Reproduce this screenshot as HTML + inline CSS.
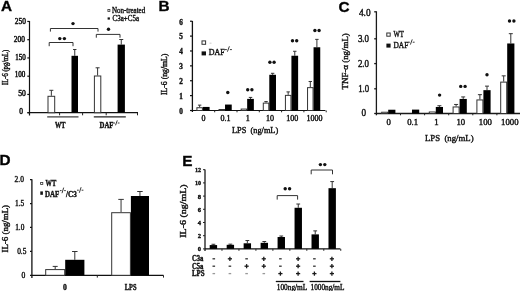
<!DOCTYPE html>
<html><head><meta charset="utf-8"><style>
html,body{margin:0;padding:0;background:#fff;}
body{width:520px;height:291px;overflow:hidden;font-family:"Liberation Serif", serif;}
svg{display:block;will-change:transform;filter:blur(0.35px);}
text{stroke:#111;stroke-width:0.38px;}
</style></head><body>
<svg width="520" height="291" viewBox="0 0 520 291">
<rect width="520" height="291" fill="#fff"/>
<text x="0.9" y="11.4" font-family='"Liberation Sans", sans-serif' font-size="15.3" font-weight="bold" fill="#000">A</text>
<line x1="29.50" y1="21.00" x2="29.50" y2="115.50" stroke="#111" stroke-width="1.2"/>
<line x1="27.30" y1="112.70" x2="29.50" y2="112.70" stroke="#111" stroke-width="1.2"/>
<line x1="27.30" y1="94.45" x2="29.50" y2="94.45" stroke="#111" stroke-width="1.2"/>
<line x1="27.30" y1="76.20" x2="29.50" y2="76.20" stroke="#111" stroke-width="1.2"/>
<line x1="27.30" y1="57.95" x2="29.50" y2="57.95" stroke="#111" stroke-width="1.2"/>
<line x1="27.30" y1="39.70" x2="29.50" y2="39.70" stroke="#111" stroke-width="1.2"/>
<line x1="27.30" y1="21.45" x2="29.50" y2="21.45" stroke="#111" stroke-width="1.2"/>
<line x1="27.50" y1="112.70" x2="138.00" y2="112.70" stroke="#111" stroke-width="1.2"/>
<line x1="59.60" y1="112.70" x2="59.60" y2="115.30" stroke="#222" stroke-width="1"/>
<line x1="82.60" y1="112.70" x2="82.60" y2="115.30" stroke="#222" stroke-width="1"/>
<line x1="106.20" y1="112.70" x2="106.20" y2="115.30" stroke="#222" stroke-width="1"/>
<line x1="137.50" y1="112.70" x2="137.50" y2="115.30" stroke="#222" stroke-width="1"/>
<text x="14.80" y="23.50" font-family='"Liberation Serif", serif' font-size="8.4" font-weight="normal" fill="#111" textLength="11.00" lengthAdjust="spacingAndGlyphs" style="stroke-width:0.5px">250</text>
<text x="13.80" y="41.50" font-family='"Liberation Serif", serif' font-size="8.4" font-weight="normal" fill="#111" textLength="11.00" lengthAdjust="spacingAndGlyphs" style="stroke-width:0.5px">200</text>
<text x="15.20" y="59.70" font-family='"Liberation Serif", serif' font-size="8.4" font-weight="normal" fill="#111" textLength="10.50" lengthAdjust="spacingAndGlyphs" style="stroke-width:0.5px">150</text>
<text x="14.70" y="77.20" font-family='"Liberation Serif", serif' font-size="8.4" font-weight="normal" fill="#111" textLength="10.60" lengthAdjust="spacingAndGlyphs" style="stroke-width:0.5px">100</text>
<text x="18.20" y="95.90" font-family='"Liberation Serif", serif' font-size="8.4" font-weight="normal" fill="#111" textLength="7.60" lengthAdjust="spacingAndGlyphs" style="stroke-width:0.5px">50</text>
<text x="19.30" y="114.00" font-family='"Liberation Serif", serif' font-size="8.4" font-weight="normal" fill="#111" textLength="3.70" lengthAdjust="spacingAndGlyphs" style="stroke-width:0.5px">0</text>
<text transform="translate(5.30,67.30) rotate(-90)" x="0" y="2.38" text-anchor="middle" font-family='"Liberation Serif", serif' font-size="7.2" font-weight="normal" fill="#111" textLength="35.20" lengthAdjust="spacingAndGlyphs">IL-6 (pg/mL)</text>
<line x1="51.35" y1="90.30" x2="51.35" y2="95.80" stroke="#333" stroke-width="1"/>
<line x1="49.35" y1="90.30" x2="53.35" y2="90.30" stroke="#333" stroke-width="1"/>
<rect x="48.00" y="96.30" width="6.70" height="16.40" fill="#fff" stroke="#333" stroke-width="1"/>
<line x1="74.75" y1="49.50" x2="74.75" y2="55.80" stroke="#333" stroke-width="1"/>
<line x1="73.05" y1="49.50" x2="76.45" y2="49.50" stroke="#333" stroke-width="1"/>
<rect x="71.50" y="55.80" width="6.50" height="56.90" fill="#000"/>
<line x1="97.60" y1="67.80" x2="97.60" y2="75.50" stroke="#333" stroke-width="1"/>
<line x1="95.60" y1="67.80" x2="99.60" y2="67.80" stroke="#333" stroke-width="1"/>
<rect x="94.40" y="76.00" width="6.40" height="36.70" fill="#fff" stroke="#333" stroke-width="1"/>
<line x1="121.25" y1="39.50" x2="121.25" y2="44.60" stroke="#333" stroke-width="1"/>
<line x1="119.25" y1="39.50" x2="123.25" y2="39.50" stroke="#333" stroke-width="1"/>
<rect x="117.60" y="44.60" width="7.30" height="68.10" fill="#000"/>
<polyline points="50.4,31.6 50.4,28.5 98,28.5 98,31.6" fill="none" stroke="#333" stroke-width="1"/>
<polyline points="49.2,46.2 49.2,42.5 73,42.5 73,46.2" fill="none" stroke="#333" stroke-width="1"/>
<polyline points="96.3,37.7 96.3,34.4 120,34.4 120,37.7" fill="none" stroke="#333" stroke-width="1"/>
<circle cx="73" cy="23.6" r="1.7" fill="#111"/>
<circle cx="108.5" cy="29.2" r="1.7" fill="#111"/>
<circle cx="59.8" cy="38.6" r="1.7" fill="#111"/>
<circle cx="64.4" cy="38.6" r="1.7" fill="#111"/>
<line x1="47.20" y1="116.90" x2="78.50" y2="116.90" stroke="#222" stroke-width="1.1"/>
<line x1="93.80" y1="116.90" x2="125.80" y2="116.90" stroke="#222" stroke-width="1.1"/>
<text x="55.00" y="127.60" font-family='"Liberation Serif", serif' font-size="8" font-weight="bold" fill="#111" textLength="10.50" lengthAdjust="spacingAndGlyphs">WT</text>
<text x="99.50" y="127.80" font-family='"Liberation Serif", serif' font-size="8" font-weight="bold" fill="#111" textLength="14.00" lengthAdjust="spacingAndGlyphs">DAF</text>
<line x1="113.30" y1="123.00" x2="115.04" y2="123.00" stroke="#222" stroke-width="0.9"/>
<line x1="115.53" y1="125.30" x2="117.27" y2="120.40" stroke="#222" stroke-width="0.9"/>
<line x1="117.76" y1="123.00" x2="119.50" y2="123.00" stroke="#222" stroke-width="0.9"/>
<rect x="107.9" y="9.5" width="2.0" height="2.0" fill="#fff" stroke="#333" stroke-width="0.8"/>
<rect x="107.60" y="17.40" width="2.30" height="2.20" fill="#111"/>
<text x="111.90" y="13.20" font-family='"Liberation Serif", serif' font-size="7.8" font-weight="normal" fill="#111" textLength="33.30" lengthAdjust="spacingAndGlyphs">Non-treated</text>
<text x="112.60" y="21.00" font-family='"Liberation Serif", serif' font-size="7.8" font-weight="normal" fill="#111" textLength="26.40" lengthAdjust="spacingAndGlyphs">C3a+C5a</text>
<text x="158.6" y="11.1" font-family='"Liberation Sans", sans-serif' font-size="15.3" font-weight="bold" fill="#000">B</text>
<line x1="192.40" y1="21.00" x2="192.40" y2="112.00" stroke="#111" stroke-width="1.3"/>
<line x1="190.00" y1="110.50" x2="192.40" y2="110.50" stroke="#111" stroke-width="1.2"/>
<text x="181.10" y="113.80" text-anchor="middle" font-family='"Liberation Serif", serif' font-size="7.2" font-weight="bold" fill="#111">0</text>
<line x1="190.00" y1="95.62" x2="192.40" y2="95.62" stroke="#111" stroke-width="1.2"/>
<text x="181.10" y="98.92" text-anchor="middle" font-family='"Liberation Serif", serif' font-size="7.2" font-weight="bold" fill="#111">1</text>
<line x1="190.00" y1="80.74" x2="192.40" y2="80.74" stroke="#111" stroke-width="1.2"/>
<text x="181.10" y="84.04" text-anchor="middle" font-family='"Liberation Serif", serif' font-size="7.2" font-weight="bold" fill="#111">2</text>
<line x1="190.00" y1="65.86" x2="192.40" y2="65.86" stroke="#111" stroke-width="1.2"/>
<text x="181.10" y="69.16" text-anchor="middle" font-family='"Liberation Serif", serif' font-size="7.2" font-weight="bold" fill="#111">3</text>
<line x1="190.00" y1="50.98" x2="192.40" y2="50.98" stroke="#111" stroke-width="1.2"/>
<text x="181.10" y="54.28" text-anchor="middle" font-family='"Liberation Serif", serif' font-size="7.2" font-weight="bold" fill="#111">4</text>
<line x1="190.00" y1="36.10" x2="192.40" y2="36.10" stroke="#111" stroke-width="1.2"/>
<text x="181.10" y="39.40" text-anchor="middle" font-family='"Liberation Serif", serif' font-size="7.2" font-weight="bold" fill="#111">5</text>
<line x1="190.00" y1="21.22" x2="192.40" y2="21.22" stroke="#111" stroke-width="1.2"/>
<text x="181.10" y="24.52" text-anchor="middle" font-family='"Liberation Serif", serif' font-size="7.2" font-weight="bold" fill="#111">6</text>
<line x1="192.40" y1="110.50" x2="325.40" y2="110.50" stroke="#111" stroke-width="1.2"/>
<line x1="214.70" y1="110.50" x2="214.70" y2="112.30" stroke="#222" stroke-width="1"/>
<line x1="237.00" y1="110.50" x2="237.00" y2="112.30" stroke="#222" stroke-width="1"/>
<line x1="259.30" y1="110.50" x2="259.30" y2="112.30" stroke="#222" stroke-width="1"/>
<line x1="281.60" y1="110.50" x2="281.60" y2="112.30" stroke="#222" stroke-width="1"/>
<line x1="303.90" y1="110.50" x2="303.90" y2="112.30" stroke="#222" stroke-width="1"/>
<line x1="326.20" y1="110.50" x2="326.20" y2="112.30" stroke="#222" stroke-width="1"/>
<text transform="translate(165.00,74.30) rotate(-90)" x="0" y="2.48" text-anchor="middle" font-family='"Liberation Serif", serif' font-size="7.5" font-weight="normal" fill="#111" textLength="41.40" lengthAdjust="spacingAndGlyphs">IL-6 (ng/mL)</text>
<line x1="199.65" y1="105.14" x2="199.65" y2="107.23" stroke="#333" stroke-width="1"/>
<line x1="197.95" y1="105.14" x2="201.35" y2="105.14" stroke="#333" stroke-width="1"/>
<rect x="196.90" y="107.73" width="5.50" height="2.77" fill="#fff" stroke="#333" stroke-width="1"/>
<rect x="202.90" y="106.93" width="6.70" height="3.57" fill="#000"/>
<rect x="219.03" y="109.51" width="5.50" height="0.99" fill="#fff" stroke="#333" stroke-width="1"/>
<rect x="225.03" y="104.55" width="6.70" height="5.95" fill="#000"/>
<rect x="241.16" y="109.07" width="5.50" height="1.43" fill="#fff" stroke="#333" stroke-width="1"/>
<line x1="250.51" y1="97.41" x2="250.51" y2="98.89" stroke="#333" stroke-width="1"/>
<line x1="248.81" y1="97.41" x2="252.21" y2="97.41" stroke="#333" stroke-width="1"/>
<rect x="247.16" y="98.89" width="6.70" height="11.61" fill="#000"/>
<line x1="266.04" y1="101.57" x2="266.04" y2="102.61" stroke="#333" stroke-width="1"/>
<line x1="264.34" y1="101.57" x2="267.74" y2="101.57" stroke="#333" stroke-width="1"/>
<rect x="263.29" y="103.11" width="5.50" height="7.39" fill="#fff" stroke="#333" stroke-width="1"/>
<line x1="272.64" y1="73.30" x2="272.64" y2="74.79" stroke="#333" stroke-width="1"/>
<line x1="270.94" y1="73.30" x2="274.34" y2="73.30" stroke="#333" stroke-width="1"/>
<rect x="269.29" y="74.79" width="6.70" height="35.71" fill="#000"/>
<line x1="288.17" y1="91.90" x2="288.17" y2="94.88" stroke="#333" stroke-width="1"/>
<line x1="286.47" y1="91.90" x2="289.87" y2="91.90" stroke="#333" stroke-width="1"/>
<rect x="285.42" y="95.38" width="5.50" height="15.12" fill="#fff" stroke="#333" stroke-width="1"/>
<line x1="294.77" y1="51.28" x2="294.77" y2="55.74" stroke="#333" stroke-width="1"/>
<line x1="293.07" y1="51.28" x2="296.47" y2="51.28" stroke="#333" stroke-width="1"/>
<rect x="291.42" y="55.74" width="6.70" height="54.76" fill="#000"/>
<line x1="310.30" y1="81.48" x2="310.30" y2="87.14" stroke="#333" stroke-width="1"/>
<line x1="308.60" y1="81.48" x2="312.00" y2="81.48" stroke="#333" stroke-width="1"/>
<rect x="307.55" y="87.64" width="5.50" height="22.86" fill="#fff" stroke="#333" stroke-width="1"/>
<line x1="316.90" y1="39.37" x2="316.90" y2="47.26" stroke="#333" stroke-width="1"/>
<line x1="315.20" y1="39.37" x2="318.60" y2="39.37" stroke="#333" stroke-width="1"/>
<rect x="313.55" y="47.26" width="6.70" height="63.24" fill="#000"/>
<circle cx="227.8" cy="92.5" r="1.7" fill="#111"/>
<circle cx="247.70000000000002" cy="89.7" r="1.7" fill="#111"/>
<circle cx="251.9" cy="89.7" r="1.7" fill="#111"/>
<circle cx="269.9" cy="62.2" r="1.7" fill="#111"/>
<circle cx="274.1" cy="62.2" r="1.7" fill="#111"/>
<circle cx="292.5" cy="40.8" r="1.7" fill="#111"/>
<circle cx="296.70000000000005" cy="40.8" r="1.7" fill="#111"/>
<circle cx="314.9" cy="30.5" r="1.7" fill="#111"/>
<circle cx="319.1" cy="30.5" r="1.7" fill="#111"/>
<text x="203.40" y="120.90" text-anchor="middle" font-family='"Liberation Serif", serif' font-size="8.0" font-weight="normal" fill="#111" style="stroke-width:0.4px">0</text>
<text x="225.60" y="120.90" text-anchor="middle" font-family='"Liberation Serif", serif' font-size="8.0" font-weight="normal" fill="#111" style="stroke-width:0.4px">0.1</text>
<text x="247.80" y="120.90" text-anchor="middle" font-family='"Liberation Serif", serif' font-size="8.0" font-weight="normal" fill="#111" style="stroke-width:0.4px">1</text>
<text x="270.00" y="120.90" text-anchor="middle" font-family='"Liberation Serif", serif' font-size="8.0" font-weight="normal" fill="#111" style="stroke-width:0.4px">10</text>
<text x="292.20" y="120.90" text-anchor="middle" font-family='"Liberation Serif", serif' font-size="8.0" font-weight="normal" fill="#111" style="stroke-width:0.4px">100</text>
<text x="314.40" y="120.90" text-anchor="middle" font-family='"Liberation Serif", serif' font-size="8.0" font-weight="normal" fill="#111" style="stroke-width:0.4px">1000</text>
<text x="232.00" y="133.20" font-family='"Liberation Serif", serif' font-size="8.4" font-weight="normal" fill="#111" textLength="46.20" lengthAdjust="spacingAndGlyphs" style="stroke-width:0.4px">LPS&#160;&#160;(ng/mL)</text>
<rect x="202.0" y="40.9" width="3.6" height="3.4" fill="#fff" stroke="#333" stroke-width="1"/>
<rect x="201.60" y="51.40" width="4.40" height="4.00" fill="#111"/>
<rect x="209.5" y="42.5" width="2" height="1.5" fill="#ddd"/>
<text x="208.70" y="55.00" font-family='"Liberation Serif", serif' font-size="8.4" font-weight="normal" fill="#111" textLength="15.90" lengthAdjust="spacingAndGlyphs">DAF</text>
<line x1="224.90" y1="49.60" x2="226.86" y2="49.60" stroke="#222" stroke-width="0.9"/>
<line x1="227.42" y1="51.70" x2="229.38" y2="46.30" stroke="#222" stroke-width="0.9"/>
<line x1="229.94" y1="49.60" x2="231.90" y2="49.60" stroke="#222" stroke-width="0.9"/>
<text x="338.6" y="12.0" font-family='"Liberation Sans", sans-serif' font-size="15.3" font-weight="bold" fill="#000">C</text>
<line x1="376.40" y1="11.30" x2="376.40" y2="115.30" stroke="#1a1a1a" stroke-width="1.3"/>
<line x1="374.20" y1="113.50" x2="376.40" y2="113.50" stroke="#1a1a1a" stroke-width="1.3"/>
<line x1="374.20" y1="88.80" x2="376.40" y2="88.80" stroke="#1a1a1a" stroke-width="1.3"/>
<line x1="374.20" y1="63.60" x2="376.40" y2="63.60" stroke="#1a1a1a" stroke-width="1.3"/>
<line x1="374.20" y1="38.80" x2="376.40" y2="38.80" stroke="#1a1a1a" stroke-width="1.3"/>
<line x1="374.20" y1="11.80" x2="376.40" y2="11.80" stroke="#1a1a1a" stroke-width="1.3"/>
<text x="358.90" y="15.50" font-family='"Liberation Serif", serif' font-size="9.4" font-weight="normal" fill="#111" textLength="11.70" lengthAdjust="spacingAndGlyphs">4.0</text>
<text x="357.90" y="42.00" font-family='"Liberation Serif", serif' font-size="9.4" font-weight="normal" fill="#111" textLength="11.20" lengthAdjust="spacingAndGlyphs">3.0</text>
<text x="357.90" y="66.80" font-family='"Liberation Serif", serif' font-size="9.4" font-weight="normal" fill="#111" textLength="11.20" lengthAdjust="spacingAndGlyphs">2.0</text>
<text x="358.20" y="91.60" font-family='"Liberation Serif", serif' font-size="9.4" font-weight="normal" fill="#111" textLength="11.00" lengthAdjust="spacingAndGlyphs">1.0</text>
<text x="361.40" y="116.30" font-family='"Liberation Serif", serif' font-size="9.4" font-weight="normal" fill="#111" textLength="4.60" lengthAdjust="spacingAndGlyphs">0</text>
<line x1="376.40" y1="113.50" x2="520.00" y2="113.50" stroke="#1a1a1a" stroke-width="1.3"/>
<line x1="400.50" y1="113.50" x2="400.50" y2="115.30" stroke="#222" stroke-width="1"/>
<line x1="424.60" y1="113.50" x2="424.60" y2="115.30" stroke="#222" stroke-width="1"/>
<line x1="448.70" y1="113.50" x2="448.70" y2="115.30" stroke="#222" stroke-width="1"/>
<line x1="472.80" y1="113.50" x2="472.80" y2="115.30" stroke="#222" stroke-width="1"/>
<line x1="496.90" y1="113.50" x2="496.90" y2="115.30" stroke="#222" stroke-width="1"/>
<line x1="521.00" y1="113.50" x2="521.00" y2="115.30" stroke="#222" stroke-width="1"/>
<text transform="translate(345.10,61.30) rotate(-90)" x="0" y="2.61" text-anchor="middle" font-family='"Liberation Serif", serif' font-size="7.9" font-weight="normal" fill="#111" textLength="56.20" lengthAdjust="spacingAndGlyphs">TNF-&#945; (ng/mL)</text>
<rect x="381.70" y="112.24" width="6.00" height="1.26" fill="#fff" stroke="#333" stroke-width="1"/>
<rect x="388.20" y="109.73" width="7.20" height="3.77" fill="#000"/>
<rect x="405.50" y="113.75" width="6.00" height="-0.25" fill="#fff" stroke="#333" stroke-width="1"/>
<rect x="412.00" y="109.61" width="7.20" height="3.89" fill="#000"/>
<rect x="429.30" y="111.99" width="6.00" height="1.51" fill="#fff" stroke="#333" stroke-width="1"/>
<line x1="439.40" y1="105.72" x2="439.40" y2="106.97" stroke="#333" stroke-width="1"/>
<line x1="437.40" y1="105.72" x2="441.40" y2="105.72" stroke="#333" stroke-width="1"/>
<rect x="435.80" y="106.97" width="7.20" height="6.53" fill="#000"/>
<line x1="456.10" y1="104.46" x2="456.10" y2="106.47" stroke="#333" stroke-width="1"/>
<line x1="454.10" y1="104.46" x2="458.10" y2="104.46" stroke="#333" stroke-width="1"/>
<rect x="453.10" y="106.97" width="6.00" height="6.53" fill="#fff" stroke="#333" stroke-width="1"/>
<line x1="463.20" y1="96.93" x2="463.20" y2="98.94" stroke="#333" stroke-width="1"/>
<line x1="461.20" y1="96.93" x2="465.20" y2="96.93" stroke="#333" stroke-width="1"/>
<rect x="459.60" y="98.94" width="7.20" height="14.56" fill="#000"/>
<line x1="479.90" y1="94.67" x2="479.90" y2="99.44" stroke="#333" stroke-width="1"/>
<line x1="477.90" y1="94.67" x2="481.90" y2="94.67" stroke="#333" stroke-width="1"/>
<rect x="476.90" y="99.94" width="6.00" height="13.56" fill="#fff" stroke="#333" stroke-width="1"/>
<line x1="487.00" y1="86.14" x2="487.00" y2="90.16" stroke="#333" stroke-width="1"/>
<line x1="485.00" y1="86.14" x2="489.00" y2="86.14" stroke="#333" stroke-width="1"/>
<rect x="483.40" y="90.16" width="7.20" height="23.34" fill="#000"/>
<line x1="503.70" y1="75.85" x2="503.70" y2="81.62" stroke="#333" stroke-width="1"/>
<line x1="501.70" y1="75.85" x2="505.70" y2="75.85" stroke="#333" stroke-width="1"/>
<rect x="500.70" y="82.12" width="6.00" height="31.38" fill="#fff" stroke="#333" stroke-width="1"/>
<line x1="510.80" y1="33.68" x2="510.80" y2="43.47" stroke="#333" stroke-width="1"/>
<line x1="508.80" y1="33.68" x2="512.80" y2="33.68" stroke="#333" stroke-width="1"/>
<rect x="507.20" y="43.47" width="7.20" height="70.03" fill="#000"/>
<circle cx="439.6" cy="95.1" r="1.7" fill="#111"/>
<circle cx="487" cy="74.8" r="1.7" fill="#111"/>
<circle cx="460.7" cy="86.4" r="1.7" fill="#111"/>
<circle cx="465.09999999999997" cy="86.4" r="1.7" fill="#111"/>
<circle cx="509.5" cy="21.0" r="1.7" fill="#111"/>
<circle cx="513.9" cy="21.0" r="1.7" fill="#111"/>
<text x="388.70" y="125.20" text-anchor="middle" font-family='"Liberation Serif", serif' font-size="8.7" font-weight="normal" fill="#111" style="stroke-width:0.4px">0</text>
<text x="412.60" y="125.20" text-anchor="middle" font-family='"Liberation Serif", serif' font-size="8.7" font-weight="normal" fill="#111" style="stroke-width:0.4px">0.1</text>
<text x="436.30" y="125.20" text-anchor="middle" font-family='"Liberation Serif", serif' font-size="8.7" font-weight="normal" fill="#111" style="stroke-width:0.4px">1</text>
<text x="460.80" y="125.20" text-anchor="middle" font-family='"Liberation Serif", serif' font-size="8.7" font-weight="normal" fill="#111" style="stroke-width:0.4px">10</text>
<text x="485.30" y="125.20" text-anchor="middle" font-family='"Liberation Serif", serif' font-size="8.7" font-weight="normal" fill="#111" style="stroke-width:0.4px">100</text>
<text x="509.80" y="125.20" text-anchor="middle" font-family='"Liberation Serif", serif' font-size="8.7" font-weight="normal" fill="#111" style="stroke-width:0.4px">1000</text>
<text x="425.00" y="140.60" font-family='"Liberation Serif", serif' font-size="9.2" font-weight="normal" fill="#111" textLength="48.60" lengthAdjust="spacingAndGlyphs" style="stroke-width:0.4px">LPS&#160;&#160;(ng/mL)</text>
<rect x="386.8" y="33.0" width="3.4" height="3.2" fill="#fff" stroke="#333" stroke-width="1"/>
<rect x="386.40" y="43.60" width="4.20" height="4.00" fill="#111"/>
<text x="393.50" y="36.60" font-family='"Liberation Serif", serif' font-size="8.2" font-weight="normal" fill="#111" textLength="10.50" lengthAdjust="spacingAndGlyphs">WT</text>
<text x="393.50" y="47.60" font-family='"Liberation Serif", serif' font-size="8.2" font-weight="normal" fill="#111" textLength="14.80" lengthAdjust="spacingAndGlyphs">DAF</text>
<line x1="408.00" y1="42.20" x2="409.85" y2="42.20" stroke="#222" stroke-width="0.9"/>
<line x1="410.38" y1="44.60" x2="412.22" y2="39.40" stroke="#222" stroke-width="0.9"/>
<line x1="412.75" y1="42.20" x2="414.60" y2="42.20" stroke="#222" stroke-width="0.9"/>
<text x="-0.6" y="165.3" font-family='"Liberation Sans", sans-serif' font-size="15.3" font-weight="bold" fill="#000">D</text>
<line x1="31.90" y1="179.20" x2="31.90" y2="278.00" stroke="#111" stroke-width="1.3"/>
<line x1="30.00" y1="275.30" x2="31.90" y2="275.30" stroke="#111" stroke-width="1.2"/>
<line x1="30.00" y1="251.38" x2="31.90" y2="251.38" stroke="#111" stroke-width="1.2"/>
<line x1="30.00" y1="227.45" x2="31.90" y2="227.45" stroke="#111" stroke-width="1.2"/>
<line x1="30.00" y1="203.53" x2="31.90" y2="203.53" stroke="#111" stroke-width="1.2"/>
<line x1="30.00" y1="179.60" x2="31.90" y2="179.60" stroke="#111" stroke-width="1.2"/>
<text x="14.60" y="182.00" font-family='"Liberation Serif", serif' font-size="7.6" font-weight="normal" fill="#111" textLength="9.30" lengthAdjust="spacingAndGlyphs">2.0</text>
<text x="15.00" y="205.90" font-family='"Liberation Serif", serif' font-size="7.6" font-weight="normal" fill="#111" textLength="9.20" lengthAdjust="spacingAndGlyphs">1.5</text>
<text x="15.20" y="229.80" font-family='"Liberation Serif", serif' font-size="7.6" font-weight="normal" fill="#111" textLength="9.20" lengthAdjust="spacingAndGlyphs">1.0</text>
<text x="17.20" y="254.00" font-family='"Liberation Serif", serif' font-size="7.6" font-weight="normal" fill="#111" textLength="9.20" lengthAdjust="spacingAndGlyphs">0.5</text>
<text x="21.60" y="277.60" font-family='"Liberation Serif", serif' font-size="7.6" font-weight="normal" fill="#111" textLength="3.80" lengthAdjust="spacingAndGlyphs">0</text>
<line x1="31.90" y1="275.30" x2="163.50" y2="275.30" stroke="#111" stroke-width="1.2"/>
<line x1="97.30" y1="275.30" x2="97.30" y2="277.60" stroke="#222" stroke-width="1"/>
<line x1="163.50" y1="275.30" x2="163.50" y2="277.60" stroke="#222" stroke-width="1"/>
<text transform="translate(5.80,228.70) rotate(-90)" x="0" y="2.44" text-anchor="middle" font-family='"Liberation Serif", serif' font-size="7.4" font-weight="normal" fill="#111" textLength="47.50" lengthAdjust="spacingAndGlyphs">IL-6 (ng/mL)</text>
<line x1="55.20" y1="266.40" x2="55.20" y2="269.10" stroke="#333" stroke-width="1"/>
<line x1="52.70" y1="266.40" x2="57.70" y2="266.40" stroke="#333" stroke-width="1"/>
<rect x="45.70" y="269.60" width="19.00" height="5.70" fill="#fff" stroke="#333" stroke-width="1"/>
<line x1="74.80" y1="251.50" x2="74.80" y2="259.80" stroke="#333" stroke-width="1"/>
<line x1="72.05" y1="251.50" x2="77.55" y2="251.50" stroke="#333" stroke-width="1"/>
<rect x="65.20" y="259.80" width="19.20" height="15.50" fill="#000"/>
<line x1="121.05" y1="199.40" x2="121.05" y2="212.20" stroke="#333" stroke-width="1"/>
<line x1="118.30" y1="199.40" x2="123.80" y2="199.40" stroke="#333" stroke-width="1"/>
<rect x="111.70" y="212.70" width="18.70" height="62.60" fill="#fff" stroke="#333" stroke-width="1"/>
<line x1="139.95" y1="191.50" x2="139.95" y2="196.00" stroke="#333" stroke-width="1"/>
<line x1="137.20" y1="191.50" x2="142.70" y2="191.50" stroke="#333" stroke-width="1"/>
<rect x="130.90" y="196.00" width="18.10" height="79.30" fill="#000"/>
<text x="64.90" y="290.20" text-anchor="middle" font-family='"Liberation Serif", serif' font-size="7.6" font-weight="bold" fill="#111">0</text>
<text x="124.80" y="289.80" font-family='"Liberation Serif", serif' font-size="7.6" font-weight="bold" fill="#111" textLength="11.70" lengthAdjust="spacingAndGlyphs">LPS</text>
<rect x="40.6" y="182.5" width="2.2" height="2.0" fill="#fff" stroke="#333" stroke-width="0.8"/>
<rect x="40.30" y="191.40" width="2.60" height="3.40" fill="#111"/>
<text x="45.60" y="185.80" font-family='"Liberation Serif", serif' font-size="7.8" font-weight="bold" fill="#111" textLength="10.70" lengthAdjust="spacingAndGlyphs">WT</text>
<text x="44.90" y="196.50" font-family='"Liberation Serif", serif' font-size="7.8" font-weight="bold" fill="#111" textLength="14.30" lengthAdjust="spacingAndGlyphs">DAF</text>
<line x1="59.90" y1="190.60" x2="61.55" y2="190.60" stroke="#222" stroke-width="0.9"/>
<line x1="62.02" y1="193.20" x2="63.68" y2="187.60" stroke="#222" stroke-width="0.9"/>
<line x1="64.15" y1="190.60" x2="65.80" y2="190.60" stroke="#222" stroke-width="0.9"/>
<text x="66.00" y="196.50" font-family='"Liberation Serif", serif' font-size="7.8" font-weight="bold" fill="#111" textLength="10.70" lengthAdjust="spacingAndGlyphs">/C3</text>
<line x1="77.00" y1="190.20" x2="78.79" y2="190.20" stroke="#222" stroke-width="0.9"/>
<line x1="79.30" y1="192.80" x2="81.10" y2="187.20" stroke="#222" stroke-width="0.9"/>
<line x1="81.61" y1="190.20" x2="83.40" y2="190.20" stroke="#222" stroke-width="0.9"/>
<text x="182.3" y="166.3" font-family='"Liberation Sans", sans-serif' font-size="15.3" font-weight="bold" fill="#000">E</text>
<line x1="205.00" y1="169.60" x2="205.00" y2="251.00" stroke="#1a1a1a" stroke-width="1.3"/>
<line x1="203.00" y1="248.90" x2="205.00" y2="248.90" stroke="#222" stroke-width="1"/>
<text x="197.70" y="251.40" font-family='"Liberation Serif", serif' font-size="6.8" font-weight="bold" fill="#111" textLength="3.30" lengthAdjust="spacingAndGlyphs">0</text>
<line x1="203.00" y1="235.70" x2="205.00" y2="235.70" stroke="#222" stroke-width="1"/>
<text x="197.70" y="238.20" font-family='"Liberation Serif", serif' font-size="6.8" font-weight="bold" fill="#111" textLength="3.30" lengthAdjust="spacingAndGlyphs">2</text>
<line x1="203.00" y1="222.50" x2="205.00" y2="222.50" stroke="#222" stroke-width="1"/>
<text x="197.70" y="225.00" font-family='"Liberation Serif", serif' font-size="6.8" font-weight="bold" fill="#111" textLength="3.30" lengthAdjust="spacingAndGlyphs">4</text>
<line x1="203.00" y1="209.30" x2="205.00" y2="209.30" stroke="#222" stroke-width="1"/>
<text x="197.70" y="211.80" font-family='"Liberation Serif", serif' font-size="6.8" font-weight="bold" fill="#111" textLength="3.30" lengthAdjust="spacingAndGlyphs">6</text>
<line x1="203.00" y1="196.10" x2="205.00" y2="196.10" stroke="#222" stroke-width="1"/>
<text x="197.70" y="198.60" font-family='"Liberation Serif", serif' font-size="6.8" font-weight="bold" fill="#111" textLength="3.30" lengthAdjust="spacingAndGlyphs">8</text>
<line x1="203.00" y1="182.90" x2="205.00" y2="182.90" stroke="#222" stroke-width="1"/>
<text x="194.90" y="185.40" font-family='"Liberation Serif", serif' font-size="6.8" font-weight="bold" fill="#111" textLength="6.10" lengthAdjust="spacingAndGlyphs">10</text>
<line x1="203.00" y1="169.70" x2="205.00" y2="169.70" stroke="#222" stroke-width="1"/>
<text x="194.90" y="172.20" font-family='"Liberation Serif", serif' font-size="6.8" font-weight="bold" fill="#111" textLength="6.10" lengthAdjust="spacingAndGlyphs">12</text>
<line x1="205.00" y1="248.90" x2="340.40" y2="248.90" stroke="#111" stroke-width="1.2"/>
<line x1="221.97" y1="248.90" x2="221.97" y2="250.80" stroke="#222" stroke-width="1"/>
<line x1="238.94" y1="248.90" x2="238.94" y2="250.80" stroke="#222" stroke-width="1"/>
<line x1="255.91" y1="248.90" x2="255.91" y2="250.80" stroke="#222" stroke-width="1"/>
<line x1="272.88" y1="248.90" x2="272.88" y2="250.80" stroke="#222" stroke-width="1"/>
<line x1="289.85" y1="248.90" x2="289.85" y2="250.80" stroke="#222" stroke-width="1"/>
<line x1="306.82" y1="248.90" x2="306.82" y2="250.80" stroke="#222" stroke-width="1"/>
<line x1="323.79" y1="248.90" x2="323.79" y2="250.80" stroke="#222" stroke-width="1"/>
<line x1="340.76" y1="248.90" x2="340.76" y2="250.80" stroke="#222" stroke-width="1"/>
<text transform="translate(183.70,211.10) rotate(-90)" x="0" y="2.48" text-anchor="middle" font-family='"Liberation Serif", serif' font-size="7.5" font-weight="normal" fill="#111" textLength="53.20" lengthAdjust="spacingAndGlyphs">IL-6 (ng/mL)</text>
<line x1="213.40" y1="244.28" x2="213.40" y2="245.07" stroke="#333" stroke-width="1"/>
<line x1="211.50" y1="244.28" x2="215.30" y2="244.28" stroke="#333" stroke-width="1"/>
<rect x="209.70" y="245.07" width="7.40" height="3.83" fill="#000"/>
<line x1="230.37" y1="244.15" x2="230.37" y2="244.81" stroke="#333" stroke-width="1"/>
<line x1="228.47" y1="244.15" x2="232.27" y2="244.15" stroke="#333" stroke-width="1"/>
<rect x="226.67" y="244.81" width="7.40" height="4.09" fill="#000"/>
<line x1="247.34" y1="240.52" x2="247.34" y2="243.29" stroke="#333" stroke-width="1"/>
<line x1="245.44" y1="240.52" x2="249.24" y2="240.52" stroke="#333" stroke-width="1"/>
<rect x="243.64" y="243.29" width="7.40" height="5.61" fill="#000"/>
<line x1="264.31" y1="241.51" x2="264.31" y2="242.83" stroke="#333" stroke-width="1"/>
<line x1="262.41" y1="241.51" x2="266.21" y2="241.51" stroke="#333" stroke-width="1"/>
<rect x="260.61" y="242.83" width="7.40" height="6.07" fill="#000"/>
<line x1="281.28" y1="236.03" x2="281.28" y2="237.02" stroke="#333" stroke-width="1"/>
<line x1="279.38" y1="236.03" x2="283.18" y2="236.03" stroke="#333" stroke-width="1"/>
<rect x="277.58" y="237.02" width="7.40" height="11.88" fill="#000"/>
<line x1="298.25" y1="204.02" x2="298.25" y2="207.78" stroke="#333" stroke-width="1"/>
<line x1="296.35" y1="204.02" x2="300.15" y2="204.02" stroke="#333" stroke-width="1"/>
<rect x="294.55" y="207.78" width="7.40" height="41.12" fill="#000"/>
<line x1="315.22" y1="230.88" x2="315.22" y2="234.38" stroke="#333" stroke-width="1"/>
<line x1="313.32" y1="230.88" x2="317.12" y2="230.88" stroke="#333" stroke-width="1"/>
<rect x="311.52" y="234.38" width="7.40" height="14.52" fill="#000"/>
<line x1="332.19" y1="181.58" x2="332.19" y2="188.18" stroke="#333" stroke-width="1"/>
<line x1="330.29" y1="181.58" x2="334.09" y2="181.58" stroke="#333" stroke-width="1"/>
<rect x="328.49" y="188.18" width="7.40" height="60.72" fill="#000"/>
<polyline points="277.2,199.6 277.2,195.6 297.6,195.6 297.6,199.6" fill="none" stroke="#333" stroke-width="1"/>
<polyline points="311.2,174.3 311.2,170.0 332.5,170.0 332.5,174.3" fill="none" stroke="#333" stroke-width="1"/>
<circle cx="285.2" cy="188.8" r="1.7" fill="#111"/>
<circle cx="289.6" cy="188.8" r="1.7" fill="#111"/>
<circle cx="320.4" cy="164.6" r="1.7" fill="#111"/>
<circle cx="324.8" cy="164.6" r="1.7" fill="#111"/>
<text x="191.90" y="260.90" font-family='"Liberation Serif", serif' font-size="7.6" font-weight="bold" fill="#111" textLength="11.50" lengthAdjust="spacingAndGlyphs">C3a</text>
<text x="191.90" y="268.60" font-family='"Liberation Serif", serif' font-size="7.6" font-weight="bold" fill="#111" textLength="11.50" lengthAdjust="spacingAndGlyphs">C5a</text>
<text x="191.90" y="275.90" font-family='"Liberation Serif", serif' font-size="7.6" font-weight="bold" fill="#111" textLength="12.60" lengthAdjust="spacingAndGlyphs">LPS</text>
<line x1="212.50" y1="258.80" x2="215.10" y2="258.80" stroke="#333" stroke-width="1.3"/>
<line x1="227.80" y1="258.80" x2="232.00" y2="258.80" stroke="#1a1a1a" stroke-width="1.3"/>
<line x1="229.90" y1="256.70" x2="229.90" y2="260.90" stroke="#1a1a1a" stroke-width="1.3"/>
<line x1="245.30" y1="258.80" x2="247.90" y2="258.80" stroke="#333" stroke-width="1.3"/>
<line x1="261.70" y1="258.80" x2="265.90" y2="258.80" stroke="#1a1a1a" stroke-width="1.3"/>
<line x1="263.80" y1="256.70" x2="263.80" y2="260.90" stroke="#1a1a1a" stroke-width="1.3"/>
<line x1="279.10" y1="258.80" x2="281.70" y2="258.80" stroke="#333" stroke-width="1.3"/>
<line x1="296.00" y1="258.80" x2="300.20" y2="258.80" stroke="#1a1a1a" stroke-width="1.3"/>
<line x1="298.10" y1="256.70" x2="298.10" y2="260.90" stroke="#1a1a1a" stroke-width="1.3"/>
<line x1="313.10" y1="258.80" x2="315.70" y2="258.80" stroke="#333" stroke-width="1.3"/>
<line x1="329.80" y1="258.80" x2="334.00" y2="258.80" stroke="#1a1a1a" stroke-width="1.3"/>
<line x1="331.90" y1="256.70" x2="331.90" y2="260.90" stroke="#1a1a1a" stroke-width="1.3"/>
<line x1="212.50" y1="266.20" x2="215.10" y2="266.20" stroke="#333" stroke-width="1.3"/>
<line x1="228.60" y1="266.20" x2="231.20" y2="266.20" stroke="#333" stroke-width="1.3"/>
<line x1="244.50" y1="266.20" x2="248.70" y2="266.20" stroke="#1a1a1a" stroke-width="1.3"/>
<line x1="246.60" y1="264.10" x2="246.60" y2="268.30" stroke="#1a1a1a" stroke-width="1.3"/>
<line x1="261.70" y1="266.20" x2="265.90" y2="266.20" stroke="#1a1a1a" stroke-width="1.3"/>
<line x1="263.80" y1="264.10" x2="263.80" y2="268.30" stroke="#1a1a1a" stroke-width="1.3"/>
<line x1="279.10" y1="266.20" x2="281.70" y2="266.20" stroke="#333" stroke-width="1.3"/>
<line x1="296.00" y1="266.20" x2="300.20" y2="266.20" stroke="#1a1a1a" stroke-width="1.3"/>
<line x1="298.10" y1="264.10" x2="298.10" y2="268.30" stroke="#1a1a1a" stroke-width="1.3"/>
<line x1="313.10" y1="266.20" x2="315.70" y2="266.20" stroke="#333" stroke-width="1.3"/>
<line x1="329.80" y1="266.20" x2="334.00" y2="266.20" stroke="#1a1a1a" stroke-width="1.3"/>
<line x1="331.90" y1="264.10" x2="331.90" y2="268.30" stroke="#1a1a1a" stroke-width="1.3"/>
<line x1="212.50" y1="273.60" x2="215.10" y2="273.60" stroke="#999" stroke-width="1.3"/>
<line x1="228.60" y1="273.60" x2="231.20" y2="273.60" stroke="#999" stroke-width="1.3"/>
<line x1="245.30" y1="273.60" x2="247.90" y2="273.60" stroke="#999" stroke-width="1.3"/>
<line x1="262.50" y1="273.60" x2="265.10" y2="273.60" stroke="#999" stroke-width="1.3"/>
<line x1="278.30" y1="273.60" x2="282.50" y2="273.60" stroke="#1a1a1a" stroke-width="1.3"/>
<line x1="280.40" y1="271.50" x2="280.40" y2="275.70" stroke="#1a1a1a" stroke-width="1.3"/>
<line x1="296.00" y1="273.60" x2="300.20" y2="273.60" stroke="#1a1a1a" stroke-width="1.3"/>
<line x1="298.10" y1="271.50" x2="298.10" y2="275.70" stroke="#1a1a1a" stroke-width="1.3"/>
<line x1="312.30" y1="273.60" x2="316.50" y2="273.60" stroke="#1a1a1a" stroke-width="1.3"/>
<line x1="314.40" y1="271.50" x2="314.40" y2="275.70" stroke="#1a1a1a" stroke-width="1.3"/>
<line x1="329.80" y1="273.60" x2="334.00" y2="273.60" stroke="#1a1a1a" stroke-width="1.3"/>
<line x1="331.90" y1="271.50" x2="331.90" y2="275.70" stroke="#1a1a1a" stroke-width="1.3"/>
<line x1="275.80" y1="281.50" x2="303.50" y2="281.50" stroke="#111" stroke-width="1.3"/>
<line x1="309.60" y1="281.50" x2="340.40" y2="281.50" stroke="#111" stroke-width="1.3"/>
<text x="276.80" y="289.50" font-family='"Liberation Serif", serif' font-size="7.8" font-weight="normal" fill="#111" textLength="30.40" lengthAdjust="spacingAndGlyphs">100ng/mL</text>
<text x="310.60" y="289.50" font-family='"Liberation Serif", serif' font-size="7.8" font-weight="normal" fill="#111" textLength="33.80" lengthAdjust="spacingAndGlyphs">1000ng/mL</text>
</svg>
</body></html>
